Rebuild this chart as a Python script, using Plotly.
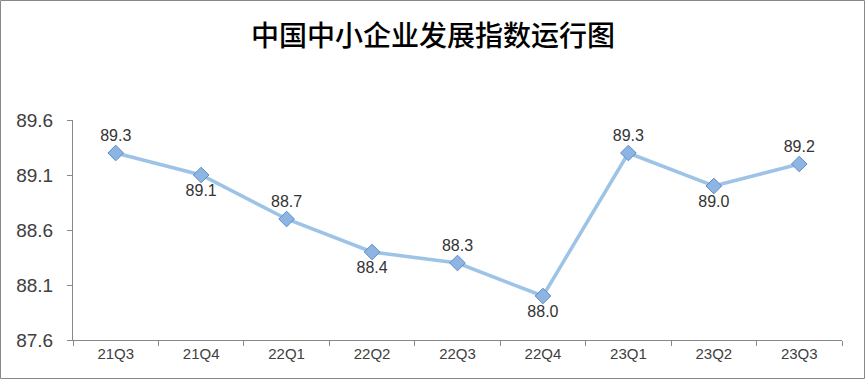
import plotly.graph_objects as go

categories = ["21Q3", "21Q4", "22Q1", "22Q2", "22Q3", "22Q4", "23Q1", "23Q2", "23Q3"]
values = [89.3, 89.1, 88.7, 88.4, 88.3, 88.0, 89.3, 89.0, 89.2]
label_pos = ["top center", "bottom center", "top center", "bottom center", "top center",
             "bottom center", "top center", "bottom center", "top center"]
y_ticks = [87.6, 88.1, 88.6, 89.1, 89.6]

W, H = 866, 380
L, R, T, B = 73, 24, 120, 40
pw, ph = W - L - R, H - T - B

fig = go.Figure()
fig.add_trace(go.Scatter(
    x=categories, y=values, mode="lines+markers+text",
    line=dict(color="#9DC3E6", width=3.5),
    marker=dict(symbol="diamond", size=12, color="#8EB4E3",
                line=dict(color="#5B8BC9", width=1)),
    text=[f"{v:.1f}" for v in values], textposition=label_pos,
    textfont=dict(family="Liberation Sans, Arial", size=16, color="#333333"),
    cliponaxis=False, showlegend=False, hoverinfo="skip",
))

fig.update_layout(
    width=W, height=H,
    margin=dict(l=L, r=R, t=T, b=B),
    paper_bgcolor="white", plot_bgcolor="white",
    title=dict(text="中国中小企业发展指数运行图", x=0.5, xanchor="center",
               y=1 - 36 / H, yanchor="middle",
               font=dict(family="Noto Sans CJK SC", size=28, color="black", weight=500)),
    xaxis=dict(type="category", tickson="boundaries", ticks="outside", ticklen=5,
               tickcolor="#888888", showline=True, linecolor="#888888", linewidth=1,
               showgrid=False, range=[-0.5, 8.5],
               tickfont=dict(family="Liberation Sans, Arial", size=15, color="#404040")),
    yaxis=dict(range=[87.6, 89.6], tickvals=y_ticks, ticktext=[f"{v:.1f}" for v in y_ticks],
               ticks="outside", ticklen=5, tickcolor="#888888", ticklabelstandoff=10,
               showline=True, linecolor="#888888", linewidth=1, showgrid=False,
               zeroline=False,
               tickfont=dict(family="Liberation Sans, Arial", size=19, color="#404040")),
    shapes=[dict(type="rect", xref="paper", yref="paper",
                 x0=(0.5 - L) / pw, x1=(W - 1.5 - L) / pw,
                 y0=(H - B - (H - 1.5)) / ph, y1=(H - B - 0.5) / ph,
                 line=dict(color="#888888", width=1), fillcolor="rgba(0,0,0,0)",
                 layer="below")],
)

fig.write_html("out.html", config={"displayModeBar": False},
               post_script="document.body.style.margin='0';document.body.style.overflow='hidden';")
